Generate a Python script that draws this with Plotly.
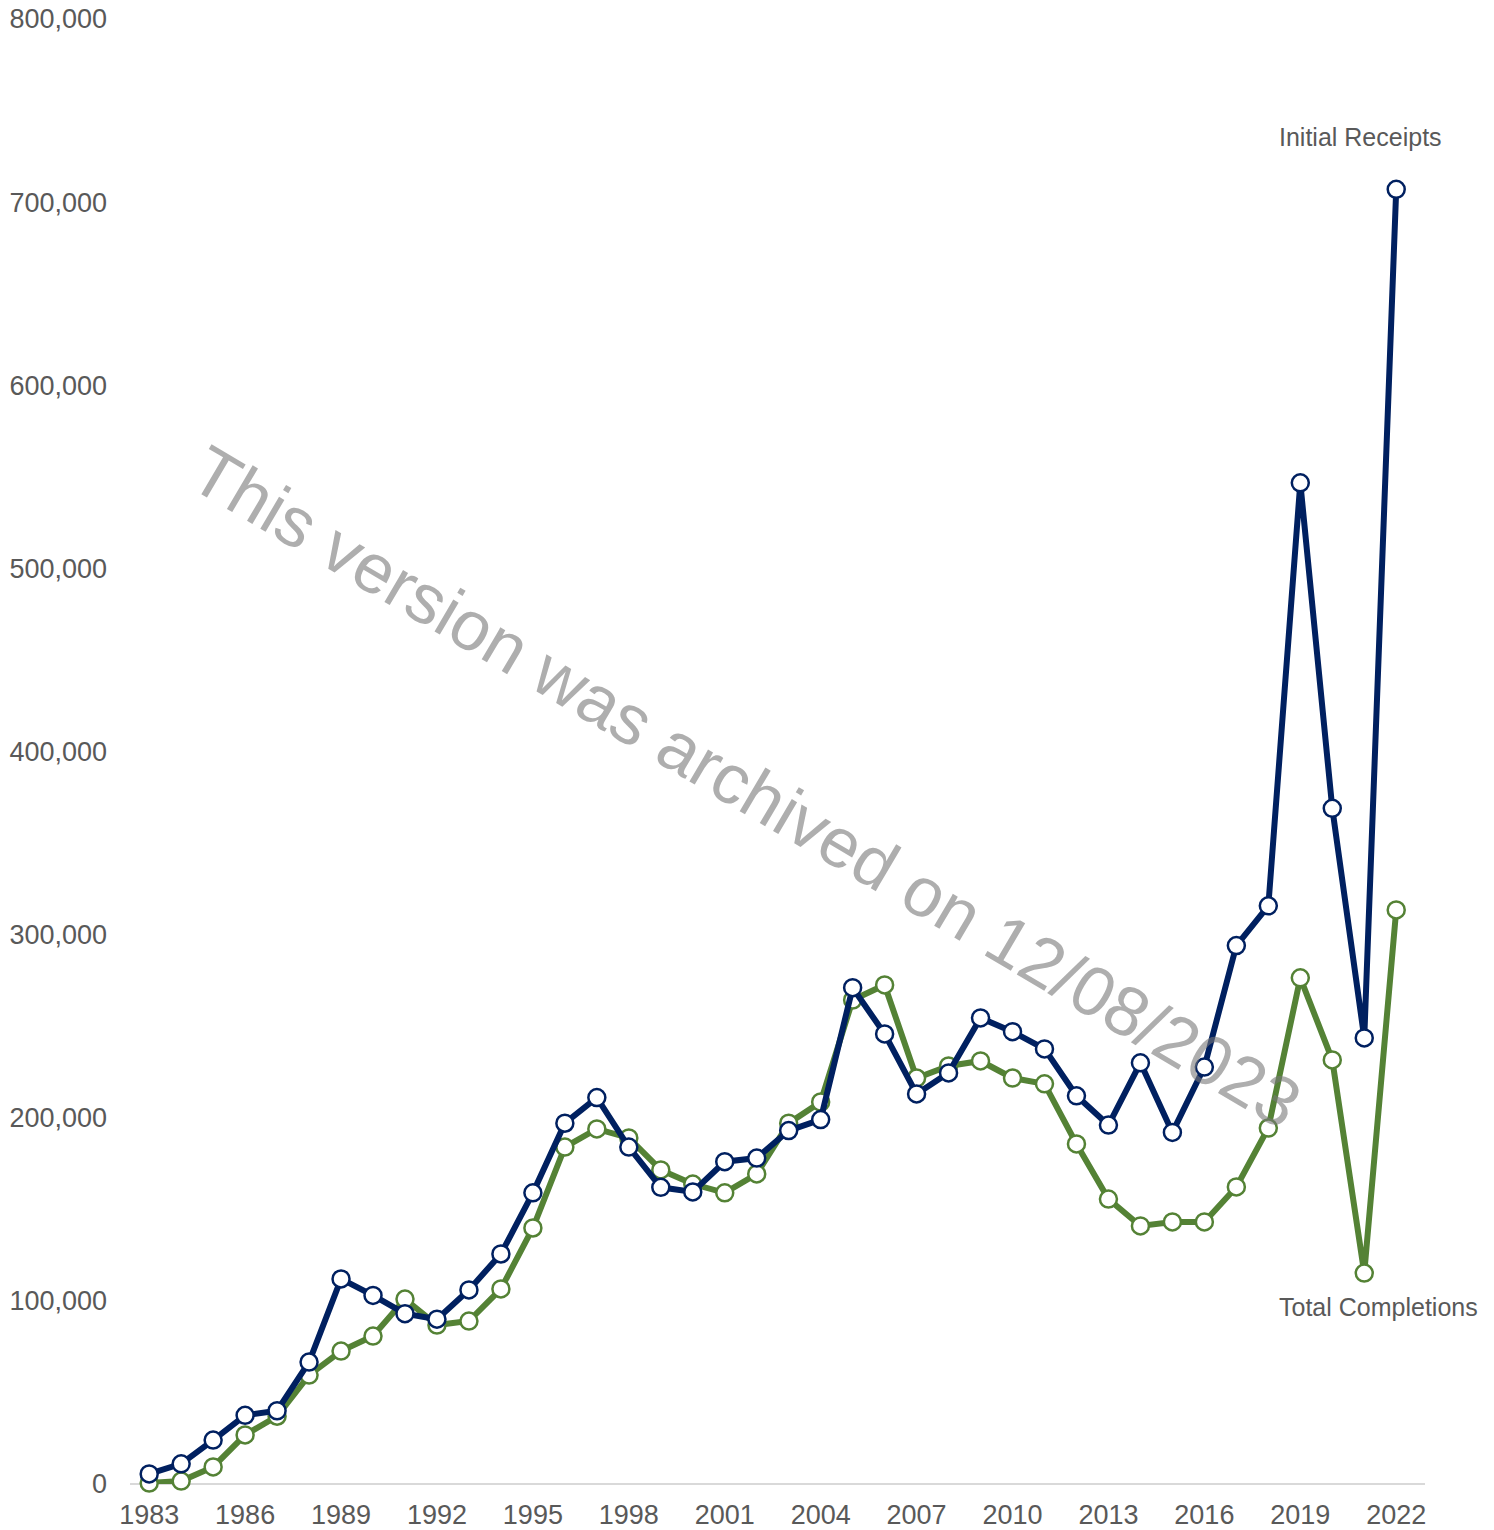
import plotly.graph_objects as go

years = list(range(1983, 2023))
initial_receipts = [5500, 11000, 24000, 37500, 40000, 66600, 112000, 103000, 93000, 90000,
                    106000, 125600, 159000, 197000, 211000, 184000, 162000, 159500, 176000, 178000,
                    193000, 199000, 271000, 245800, 213000, 224500, 254500, 247000, 237600, 212000,
                    196000, 230000, 192000, 227700, 294000, 315700, 546700, 369000, 243600, 707000]
total_completions = [500, 1600, 9300, 26800, 37000, 59500, 72600, 80800, 101000, 86800,
                     89000, 106500, 139800, 184000, 193900, 189000, 171500, 163800, 159000, 169300,
                     197000, 208600, 264300, 272500, 221700, 228300, 231000, 221700, 218500, 185700,
                     155600, 140900, 143100, 143100, 162200, 194400, 276400, 231600, 115200, 313500]
x_ticks = list(range(1983, 2023, 3))
y_ticks = list(range(0, 800001, 100000))

NAVY = "#002060"
GREEN = "#548235"
FONT = "Liberation Sans, Arial, sans-serif"
GREY = "#595959"

OFF = 8  # default page margin of the browser
W, H = 1494 - OFF, 1530 - OFF
L, R, T, B = 130 - OFF, 69, 19 - OFF, 46
PW, PH = W - L - R, H - T - B


def px(xp, yp):
    # page pixel position -> paper fraction
    return (xp - OFF - L) / PW, (H - B - (yp - OFF)) / PH


fig = go.Figure()
fig.add_trace(go.Scatter(
    x=years, y=total_completions, mode="lines+markers", name="Total Completions",
    line=dict(color=GREEN, width=6),
    marker=dict(size=17, color="white", line=dict(color=GREEN, width=2.5)),
    cliponaxis=False))
fig.add_trace(go.Scatter(
    x=years, y=initial_receipts, mode="lines+markers", name="Initial Receipts",
    line=dict(color=NAVY, width=6),
    marker=dict(size=17, color="white", line=dict(color=NAVY, width=2.5)),
    cliponaxis=False))

fig.update_layout(
    width=W, height=H,
    margin=dict(l=L, r=R, t=T, b=B, autoexpand=False),
    paper_bgcolor="white", plot_bgcolor="white",
    showlegend=False,
    font=dict(family=FONT, color=GREY, size=27),
    xaxis=dict(range=[1982.4, 2022.9], tickmode="array", tickvals=x_ticks,
               ticktext=[str(v) for v in x_ticks], showgrid=False, zeroline=False,
               showline=False, ticks="", ticklabelstandoff=12, ticklabeloverflow="allow",
               tickfont=dict(size=27, color=GREY, family=FONT)),
    yaxis=dict(range=[0, 800000], tickmode="array", tickvals=y_ticks,
               ticktext=[f"{v:,}" for v in y_ticks], showgrid=False,
               zeroline=True, zerolinecolor="#d9d9d9", zerolinewidth=2,
               showline=False, ticks="", ticklabelstandoff=22, ticklabeloverflow="allow",
               tickfont=dict(size=27, color=GREY, family=FONT)),
)

ax, ay = px(1277, 137)
fig.add_annotation(x=ax, y=ay, xref="paper", yref="paper", text="Initial Receipts",
                   showarrow=False, xanchor="left", yanchor="middle",
                   font=dict(size=25, color=GREY, family=FONT))
ax, ay = px(1277, 1307)
fig.add_annotation(x=ax, y=ay, xref="paper", yref="paper", text="Total Completions",
                   showarrow=False, xanchor="left", yanchor="middle",
                   font=dict(size=25, color=GREY, family=FONT))

wx, wy = px(746, 787)
fig.add_annotation(x=wx, y=wy, xref="paper", yref="paper",
                   text="This version was archived on 12/08/2023",
                   showarrow=False, textangle=30.5, xanchor="center", yanchor="middle",
                   font=dict(size=70, color="rgba(120,120,120,0.6)", family=FONT))

fig.write_html("out.html")
